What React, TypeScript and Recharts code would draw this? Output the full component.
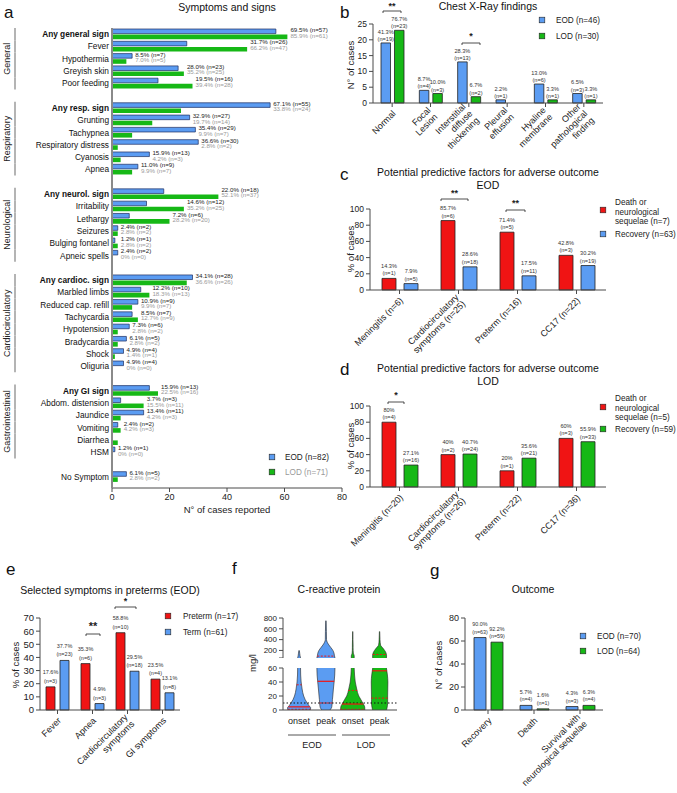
import React from 'react';
import { BarChart, Bar, XAxis, YAxis, LabelList, ComposedChart, Area, ReferenceLine } from 'recharts';

const FONT = '"Liberation Sans", Arial, Helvetica, sans-serif';
const BLUE = '#5b9cf2';
const GREEN = '#16b816';
const RED = '#f01414';
const AXIS = '#4a4a4a';

// ---------- a: symptoms and signs (bars = number of cases)
const symptomGroups = ['General', 'Respiratory', 'Neurological', 'Cardiocirculatory', 'Gastrointestinal', ''];
const groupSizes = [5, 6, 6, 8, 6, 1];
const symptoms = [
  'Any general sign', 'Fever', 'Hypothermia', 'Greyish skin', 'Poor feeding',
  'Any resp. sign', 'Grunting', 'Tachypnea', 'Respiratory distress', 'Cyanosis', 'Apnea',
  'Any neurol. sign', 'Irritability', 'Lethargy', 'Seizures', 'Bulging fontanel', 'Apneic spells',
  'Any cardioc. sign', 'Marbled limbs', 'Reduced cap. refill', 'Tachycardia', 'Hypotension', 'Bradycardia', 'Shock', 'Oliguria',
  'Any GI sign', 'Abdom. distension', 'Jaundice', 'Vomiting', 'Diarrhea', 'HSM',
  'No Symptom',
];
const eodN = [57, 26, 7, 23, 16, 55, 27, 29, 30, 13, 9, 18, 12, 6, 2, 1, 2, 28, 10, 9, 7, 6, 5, 4, 4, 13, 3, 11, 2, 0, 1, 5];
const eodPct = [69.5, 31.7, 8.5, 28.0, 19.5, 67.1, 32.9, 35.4, 36.6, 15.9, 11.0, 22.0, 14.6, 7.2, 2.4, 1.2, 2.4, 34.1, 12.2, 10.9, 8.5, 7.3, 6.1, 4.9, 4.9, 15.9, 3.7, 13.4, 2.4, 0, 1.2, 6.1];
const lodN = [61, 47, 5, 25, 28, 24, 14, 7, 2, 3, 7, 37, 25, 20, 2, 2, 0, 26, 13, 7, 9, 2, 2, 1, 0, 16, 11, 3, 3, 2, 0, 2];
const lodPct = [85.9, 66.2, 7.0, 35.2, 39.4, 33.8, 19.7, 9.9, 2.8, 4.2, 9.9, 52.1, 35.2, 28.2, 2.8, 2.8, 0, 36.6, 18.3, 9.9, 12.7, 2.8, 2.8, 1.4, 0, 22.5, 15.5, 4.2, 4.2, 2.8, 0, 2.8];

// ---------- b: chest x-ray
const xrayFindings = ['Normal', 'Focal\nLesion', 'Interstitial\ndiffuse\nthickening', 'Pleural\neffusion', 'Hyaline\nmembrane', 'Other\npathological\nfinding'];
const xrayEod = [19, 4, 13, 1, 6, 3];
const xrayEodPct = [41.3, 8.7, 28.3, 2.2, 13.0, 6.5];
const xrayLod = [23, 3, 2, 0, 1, 1];
const xrayLodPct: (number | null)[] = [76.7, 10.0, 6.7, null, 3.3, 3.3];

// ---------- c / d: predictive factors (bars = % of cases)
const eodFactors = ['Meningitis (n=6)', 'Cardiocirculatory\nsymptoms (n=25)', 'Preterm (n=16)', 'CC17 (n=22)'];
const eodAdversePct = [14.3, 85.7, 71.4, 42.8];
const eodAdverseN = [1, 6, 5, 3];
const eodRecoveryPct = [7.9, 28.6, 17.5, 30.2];
const eodRecoveryN = [5, 18, 11, 19];

const lodFactors = ['Meningitis (n=20)', 'Cardiocirculatory\nsymptoms (n=26)', 'Preterm (n=22)', 'CC17 (n=36)'];
const lodAdversePct = [80, 40, 20, 60];
const lodAdverseN = [4, 2, 1, 3];
const lodRecoveryPct = [27.1, 40.7, 35.6, 55.9];
const lodRecoveryN = [16, 24, 21, 33];

// ---------- e: preterm vs term
const pretermSymptoms = ['Fever', 'Apnea', 'Cardiocirculatory\nsymptoms', 'GI symptoms'];
const pretermPct = [17.6, 35.3, 58.8, 23.5];
const pretermN = [3, 6, 10, 4];
const termPct = [37.7, 4.9, 29.5, 13.1];
const termN = [23, 3, 18, 8];

// ---------- f: CRP violins (relative density at each level)
const crpTimes = ['onset', 'peak', 'onset', 'peak'];
const crpY = [0, 3, 6, 10, 15, 20, 30, 40, 50, 60, 100, 150, 200, 250, 300, 400, 550, 750];
const crpEodOnset = [0.92, 0.96, 0.83, 0.67, 0.5, 0.38, 0.25, 0.17, 0.13, 0.12, 0.08, 0.05, 0.02, null, null, null, null, null];
const crpEodPeak = [0.33, 0.46, 0.5, 0.52, 0.54, 0.57, 0.62, 0.68, 0.73, 0.75, 0.71, 0.67, 0.58, 0.42, 0.25, 0.05, 0.04, 0.02];
const crpLodOnset = [1.0, 1.0, 0.96, 0.83, 0.67, 0.5, 0.33, 0.21, 0.15, 0.12, 0.12, 0.05, 0.035, 0.03, 0.03, 0.02, 0.01, null];
const crpLodPeak = [0.58, 0.62, 0.65, 0.67, 0.67, 0.67, 0.68, 0.69, 0.65, 0.57, 0.58, 0.54, 0.42, 0.25, 0.08, 0.035, 0.015, null];
const crpMedian = [4.5, 41, 8.5, 56];
const crpQ1 = [1, 10, 1, 17];
const crpQ3 = [36, 95, 28, 125];
const crpCutoff = 10;

// ---------- g: outcome
const outcomes = ['Recovery', 'Death', 'Survival with\nneurological sequelae'];
const outcomeEodN = [63, 4, 3];
const outcomeEodPct = [90.0, 5.7, 4.3];
const outcomeLodN = [59, 1, 4];
const outcomeLodPct = [92.2, 1.6, 6.3];

// ---------- helpers
const pct1 = (v: number) => (v === 0 ? '0%' : `${v.toFixed(1)}%`);
const pctRaw = (v: number) => `${v}%`;
const lbl = (p: number, n: number, f = pct1) => `${f(p)}\n(n=${n})`;

type SymRow = { name: string; eod: number; lod: number; eodPct: number; lodPct: number; group: string; gi: number; gsize: number; gap?: boolean };
const symptomRows: SymRow[] = [];
{
  let k = 0;
  symptomGroups.forEach((g, gIdx) => {
    if (gIdx > 0) symptomRows.push({ name: `__gap${gIdx}`, eod: 0, lod: 0, eodPct: 0, lodPct: 0, group: '', gi: 0, gsize: 0, gap: true });
    for (let i = 0; i < groupSizes[gIdx]; i++, k++) {
      symptomRows.push({ name: symptoms[k], eod: eodN[k], lod: lodN[k], eodPct: eodPct[k], lodPct: lodPct[k], group: g, gi: i, gsize: groupSizes[gIdx] });
    }
  });
}
const rowByName = new Map(symptomRows.map((r) => [r.name, r]));

const A_TOP = 28, A_BOTTOM = 488, A_PAD = 5, A_LEFT = 112, A_RIGHT = 342, A_MAX = 80;
const BAND_A = (A_BOTTOM - A_TOP - A_PAD) / symptomRows.length;
const PX_A = (A_RIGHT - A_LEFT) / A_MAX;

const xrayRows = xrayFindings.map((name, i) => ({
  name, eod: xrayEod[i], lod: xrayLod[i],
  eodLbl: lbl(xrayEodPct[i], xrayEod[i]),
  lodLbl: xrayLodPct[i] == null ? 'n.d.' : lbl(xrayLodPct[i] as number, xrayLod[i]),
}));
const eodFactorRows = eodFactors.map((name, i) => ({
  name, adverse: eodAdversePct[i], recovery: eodRecoveryPct[i],
  aLbl: lbl(eodAdversePct[i], eodAdverseN[i]), rLbl: lbl(eodRecoveryPct[i], eodRecoveryN[i]),
}));
const lodFactorRows = lodFactors.map((name, i) => ({
  name, adverse: lodAdversePct[i], recovery: lodRecoveryPct[i],
  aLbl: lbl(lodAdversePct[i], lodAdverseN[i], pctRaw), rLbl: lbl(lodRecoveryPct[i], lodRecoveryN[i], pctRaw),
}));
const pretermRows = pretermSymptoms.map((name, i) => ({
  name, preterm: pretermPct[i], term: termPct[i],
  pLbl: lbl(pretermPct[i], pretermN[i]), tLbl: lbl(termPct[i], termN[i]),
}));
const outcomeRows = outcomes.map((name, i) => ({
  name, eod: outcomeEodN[i], lod: outcomeLodN[i],
  eLbl: lbl(outcomeEodPct[i], outcomeEodN[i]), lLbl: lbl(outcomeLodPct[i], outcomeLodN[i]),
}));

const crpDens = [crpEodOnset, crpEodPeak, crpLodOnset, crpLodPeak];
const crpColors = [BLUE, BLUE, GREEN, GREEN];
const MAX_HALF = 0.45;
const crpRows = crpY.map((y, j) => {
  const row: any = { y };
  crpDens.forEach((d, i) => {
    const v = d[j];
    // [null, null] keeps both edges of the violin undefined above its top
    row[`v${i}`] = v == null ? [null, null] : [i + 1 - v * MAX_HALF, i + 1 + v * MAX_HALF];
  });
  return row;
});
const halfAt = (i: number, y: number) => {
  const d = crpDens[i];
  for (let j = 0; j < crpY.length - 1; j++) {
    if (y >= crpY[j] && y <= crpY[j + 1] && d[j] != null && d[j + 1] != null) {
      const t = (y - crpY[j]) / (crpY[j + 1] - crpY[j]);
      return ((d[j] as number) + t * ((d[j + 1] as number) - (d[j] as number))) * MAX_HALF;
    }
  }
  return 0.05;
};

const tickStyle = { fontSize: 8.5, fill: '#222', fontFamily: FONT };
const axisLine = { stroke: AXIS, strokeWidth: 1 };

const topLabel = (fontSize: number, lineH: number, lift: number) => (props: any) => {
  const vb = props.viewBox ?? props;
  const lines = String(props.value ?? '').split('\n');
  const cx = vb.x + vb.width / 2;
  const base = Math.min(vb.y, vb.y + vb.height) - lift;
  return (
    <text textAnchor="middle" fontSize={fontSize} fill="#333" fontFamily={FONT}>
      {lines.map((l, i) => (
        <tspan key={i} x={cx} y={base - (lines.length - 1 - i) * lineH}>{l}</tspan>
      ))}
    </text>
  );
};

function RotTick(props: any) {
  const { x, y, payload } = props;
  const lines = String(payload.value).split('\n');
  const lh = 9.5;
  return (
    <g transform={`translate(${x + 2},${y + 3}) rotate(-45)`}>
      <text textAnchor="end" fontSize={9} fill="#222" fontFamily={FONT}>
        {lines.map((l, i) => (
          <tspan key={i} x={0} y={(i - (lines.length - 1) / 2) * lh + 3}>{l}</tspan>
        ))}
      </text>
    </g>
  );
}

function SymptomTick(props: any) {
  const { x, y, payload } = props;
  const r = rowByName.get(payload.value);
  if (!r || r.gap) return null;
  const bold = r.name.startsWith('Any');
  return (
    <g>
      <text x={x} y={y + 3} textAnchor="end" fontSize={8.3} fontWeight={bold ? 700 : 400} fill="#111" fontFamily={FONT}>{r.name}</text>
      {r.group && <line x1={15} x2={15} y1={y - BAND_A / 2} y2={y + BAND_A / 2} stroke="#b4b4b4" strokeWidth={2} />}
      {r.group && r.gi === 0 && (
        <text transform={`translate(9.5,${y + ((r.gsize - 1) / 2) * BAND_A}) rotate(-90)`} textAnchor="middle" fontSize={9} fill="#222" fontFamily={FONT}>{r.group}</text>
      )}
    </g>
  );
}

function SymptomLabel(props: any) {
  const vb = props.viewBox ?? props;
  const r = rowByName.get(props.value);
  if (!r || r.gap) return null;
  const x = vb.x + Math.max(r.eod, r.lod) * PX_A + 3;
  const cy = vb.y + vb.height / 2;
  return (
    <g fontFamily={FONT} fontSize={6.2}>
      <text x={x} y={cy + 0.8} fill="#222">{`${pct1(r.eodPct)} (n=${r.eod})`}</text>
      <text x={x} y={cy + 6.3} fill="#9a9a9a">{`${pct1(r.lodPct)} (n=${r.lod})`}</text>
    </g>
  );
}

const Box = ({ left, top, children }: { left: number; top: number; children: React.ReactNode }) => (
  <div style={{ position: 'absolute', left, top }}>{children}</div>
);

function SymptomsChart() {
  return (
    <BarChart width={360} height={520} data={symptomRows} layout="vertical" margin={{ top: A_TOP, right: 18, bottom: 12, left: 0 }} barSize={4.6} barGap={1}>
      <XAxis type="number" domain={[0, A_MAX]} ticks={[0, 20, 40, 60, 80]} tick={{ ...tickStyle, fontSize: 9 }} axisLine={axisLine} tickLine={{ stroke: AXIS }} tickSize={4} height={20} />
      <YAxis type="category" dataKey="name" width={A_LEFT} interval={0} tick={<SymptomTick />} tickSize={0} tickMargin={3} axisLine={{ stroke: '#8a8a8a', strokeWidth: 2 }} tickLine={false} padding={{ top: 0, bottom: A_PAD }} />
      <Bar dataKey="eod" fill={BLUE} stroke="#1c2d5e" strokeWidth={0.7} isAnimationActive={false}>
        <LabelList dataKey="name" content={SymptomLabel} />
      </Bar>
      <Bar dataKey="lod" fill={GREEN} isAnimationActive={false} />
    </BarChart>
  );
}

function XrayChart() {
  return (
    <BarChart width={332} height={160} data={xrayRows} margin={{ top: 24, right: 74, bottom: 0, left: 0 }} barSize={9.5} barGap={4}>
      <XAxis dataKey="name" interval={0} tick={<RotTick />} axisLine={axisLine} tickLine={{ stroke: AXIS }} tickSize={4} height={57} />
      <YAxis width={28} domain={[0, 25]} ticks={[0, 5, 10, 15, 20, 25]} interval={0} tick={tickStyle} axisLine={axisLine} tickLine={{ stroke: AXIS }} tickSize={4} />
      <Bar dataKey="eod" fill={BLUE} stroke="#222" strokeWidth={0.8} isAnimationActive={false}>
        <LabelList dataKey="eodLbl" content={topLabel(5.6, 7.2, 2)} />
      </Bar>
      <Bar dataKey="lod" fill={GREEN} stroke="#222" strokeWidth={0.8} isAnimationActive={false}>
        <LabelList dataKey="lodLbl" content={topLabel(5.6, 7.2, 2)} />
      </Bar>
    </BarChart>
  );
}

function FactorChart({ rows, recColor, top, height }: { rows: any[]; recColor: string; top: number; height: number }) {
  return (
    <BarChart width={332} height={height} data={rows} margin={{ top, right: 71, bottom: 0, left: 0 }} barSize={14} barGap={8}>
      <XAxis dataKey="name" interval={0} tick={<RotTick />} axisLine={axisLine} tickLine={{ stroke: AXIS }} tickSize={4} height={height - top - 81} />
      <YAxis width={25} domain={[0, 100]} ticks={[0, 20, 40, 60, 80, 100]} interval={0} tick={tickStyle} axisLine={axisLine} tickLine={{ stroke: AXIS }} tickSize={4} />
      <Bar dataKey="adverse" fill={RED} stroke="#222" strokeWidth={0.8} isAnimationActive={false}>
        <LabelList dataKey="aLbl" content={topLabel(5.6, 7.5, 3)} />
      </Bar>
      <Bar dataKey="recovery" fill={recColor} stroke="#222" strokeWidth={0.8} isAnimationActive={false}>
        <LabelList dataKey="rLbl" content={topLabel(5.6, 7.5, 3)} />
      </Bar>
    </BarChart>
  );
}

function PretermChart() {
  return (
    <BarChart width={240} height={203} data={pretermRows} margin={{ top: 28, right: 60, bottom: 0, left: 0 }} barSize={9} barGap={5}>
      <XAxis dataKey="name" interval={0} tick={<RotTick />} axisLine={axisLine} tickLine={{ stroke: AXIS }} tickSize={4} height={83} />
      <YAxis width={40} domain={[0, 70]} ticks={[0, 10, 20, 30, 40, 50, 60, 70]} interval={0} tick={{ ...tickStyle, fontSize: 9.5 }} axisLine={axisLine} tickLine={{ stroke: AXIS }} tickSize={4} />
      <Bar dataKey="preterm" fill={RED} stroke="#222" strokeWidth={0.8} isAnimationActive={false}>
        <LabelList dataKey="pLbl" content={topLabel(5.5, 8.5, 4)} />
      </Bar>
      <Bar dataKey="term" fill={BLUE} stroke="#222" strokeWidth={0.8} isAnimationActive={false}>
        <LabelList dataKey="tLbl" content={topLabel(5.5, 8.5, 4)} />
      </Bar>
    </BarChart>
  );
}

function CrpChart({ upper }: { upper: boolean }) {
  const rows = crpRows.filter((r) => (upper ? r.y >= 60 : r.y <= 60));
  const inRange = (v: number) => (upper ? v > 60 : v <= 60);
  return (
    <ComposedChart width={160} height={upper ? 58 : 70} data={rows} layout="vertical" margin={{ top: upper ? 18 : 8, right: 3, bottom: 0, left: 0 }}>
      <XAxis type="number" domain={[0.4, 4.65]} ticks={[1, 2, 3, 4]} interval={0} tickFormatter={(v) => crpTimes[v - 1]} hide={upper} tick={{ ...tickStyle, fontSize: 9 }} axisLine={axisLine} tickLine={false} height={20} />
      <YAxis type="number" dataKey="y" reversed width={43} domain={upper ? [60, 800] : [0, 60]} ticks={upper ? [60, 200, 400, 600, 800] : [0, 20, 40, 60]} interval={0} tickFormatter={(v) => (upper && v === 60 ? '' : String(v))} tick={{ ...tickStyle, fontSize: 8 }} axisLine={axisLine} tickLine={{ stroke: AXIS }} tickSize={4} allowDataOverflow />
      {crpColors.map((c, i) => (
        <Area key={i} dataKey={`v${i}`} type="monotone" fill={c} fillOpacity={1} stroke="#222" strokeWidth={0.6} isAnimationActive={false} dot={false} activeDot={false} />
      ))}
      {!upper && <ReferenceLine y={crpCutoff} stroke="#111" strokeDasharray="1.5 2" strokeWidth={1} />}
      {crpMedian.map((m, i) => inRange(m) && (
        <ReferenceLine key={`m${i}`} segment={[{ x: i + 1 - halfAt(i, m), y: m }, { x: i + 1 + halfAt(i, m), y: m }]} stroke={RED} strokeWidth={1.2} />
      ))}
      {[...crpQ1, ...crpQ3].map((q, k) => {
        const i = k % 4;
        return inRange(q) && (
          <ReferenceLine key={`q${k}`} segment={[{ x: i + 1 - halfAt(i, q), y: q }, { x: i + 1 + halfAt(i, q), y: q }]} stroke={RED} strokeWidth={1} strokeDasharray="2 1.5" />
        );
      })}
    </ComposedChart>
  );
}

function OutcomeChart() {
  return (
    <BarChart width={257} height={203} data={outcomeRows} margin={{ top: 28, right: 74, bottom: 0, left: 0 }} barSize={12} barGap={5}>
      <XAxis dataKey="name" interval={0} tick={<RotTick />} axisLine={axisLine} tickLine={{ stroke: AXIS }} tickSize={4} height={83} />
      <YAxis width={45} domain={[0, 80]} ticks={[0, 20, 40, 60, 80]} interval={0} tick={{ ...tickStyle, fontSize: 9 }} axisLine={axisLine} tickLine={{ stroke: AXIS }} tickSize={4} />
      <Bar dataKey="eod" fill={BLUE} stroke="#222" strokeWidth={0.8} isAnimationActive={false}>
        <LabelList dataKey="eLbl" content={topLabel(5.4, 7.5, 4)} />
      </Bar>
      <Bar dataKey="lod" fill={GREEN} stroke="#222" strokeWidth={0.8} isAnimationActive={false}>
        <LabelList dataKey="lLbl" content={topLabel(5.4, 7.5, 4)} />
      </Bar>
    </BarChart>
  );
}

const Sq = ({ x, y, c }: { x: number; y: number; c: string }) => (
  <rect x={x - 2.8} y={y - 2.8} width={5.6} height={5.6} fill={c} stroke="#222" strokeWidth={0.6} />
);
const Bracket = ({ x1, x2, y, stars, cy, size = 9 }: { x1: number; x2: number; y: number; stars: string; cy: number; size?: number }) => (
  <g>
    <path d={`M${x1},${y + 2} V${y} H${x2} V${y + 2}`} fill="none" stroke="#222" strokeWidth={0.8} />
    <text x={(x1 + x2) / 2} y={cy} textAnchor="middle" fontSize={size} fontWeight={700} fill="#222">{stars}</text>
  </g>
);
const VLabel = ({ x, y, text }: { x: number; y: number; text: string }) => (
  <text transform={`translate(${x},${y}) rotate(-90)`} textAnchor="middle" fontSize={9.5} fill="#222">{text}</text>
);

function Overlay() {
  const title = { fontSize: 10.5, fill: '#111', textAnchor: 'middle' as const };
  const letter = { fontSize: 17, fill: '#111' };
  const leg = { fontSize: 8.2, fill: '#222' };
  return (
    <svg width={677} height={793} style={{ position: 'absolute', left: 0, top: 0, pointerEvents: 'none' }} fontFamily={FONT}>
      {/* letters */}
      <text x={4} y={18} {...letter}>a</text>
      <text x={340} y={18} {...letter}>b</text>
      <text x={340} y={180} {...letter}>c</text>
      <text x={340} y={375} {...letter}>d</text>
      <text x={6} y={575} {...letter}>e</text>
      <text x={232} y={574} {...letter}>f</text>
      <text x={430} y={576} {...letter}>g</text>

      {/* titles */}
      <text x={227} y={11} {...title}>Symptoms and signs</text>
      <text x={488} y={10} {...title}>Chest X-Ray findings</text>
      <text x={488} y={176} {...title}>Potential predictive factors for adverse outcome</text>
      <text x={488} y={189} {...title}>EOD</text>
      <text x={488} y={372} {...title}>Potential predictive factors for adverse outcome</text>
      <text x={488} y={385} {...title}>LOD</text>
      <text x={110} y={594} {...title}>Selected symptoms in preterms (EOD)</text>
      <text x={339} y={593} {...title}>C-reactive protein</text>
      <text x={533} y={593} {...title}>Outcome</text>

      {/* axis titles */}
      <text x={227} y={513} textAnchor="middle" fontSize={9.5} fill="#222">N° of cases reported</text>
      <VLabel x={354} y={65} text="N° of cases" />
      <VLabel x={354} y={249} text="% of cases" />
      <VLabel x={354} y={446} text="% of cases" />
      <VLabel x={19} y={665} text="% of cases" />
      <VLabel x={256} y={663} text="mg/l" />
      <VLabel x={442} y={665} text="N° of cases" />

      {/* legends */}
      <Sq x={272} y={457} c={BLUE} />
      <text x={285} y={460} {...leg}>EOD (n=82)</text>
      <Sq x={272} y={472} c={GREEN} />
      <text x={285} y={475} {...leg} fill="#999">LOD (n=71)</text>

      <Sq x={542} y={20} c={BLUE} />
      <text x={556} y={23} {...leg}>EOD (n=46)</text>
      <Sq x={542} y={36} c={GREEN} />
      <text x={556} y={39} {...leg}>LOD (n=30)</text>

      <Sq x={603} y={210} c={RED} />
      <text x={615} y={205} {...leg}>Death or</text>
      <text x={615} y={215} {...leg}>neurological</text>
      <text x={615} y={224} {...leg}>sequelae (n=7)</text>
      <Sq x={603} y={234} c={BLUE} />
      <text x={615} y={237} {...leg}>Recovery (n=63)</text>

      <Sq x={603} y={407} c={RED} />
      <text x={615} y={401} {...leg}>Death or</text>
      <text x={615} y={411} {...leg}>neurological</text>
      <text x={615} y={420} {...leg}>sequelae (n=5)</text>
      <Sq x={603} y={429} c={GREEN} />
      <text x={615} y={432} {...leg}>Recovery (n=59)</text>

      <Sq x={168} y={616} c={RED} />
      <text x={183} y={619} {...leg}>Preterm (n=17)</text>
      <Sq x={168} y={632} c={BLUE} />
      <text x={183} y={635} {...leg}>Term (n=61)</text>

      <Sq x={583} y={636} c={BLUE} />
      <text x={597} y={639} {...leg}>EOD (n=70)</text>
      <Sq x={583} y={651} c={GREEN} />
      <text x={597} y={654} {...leg}>LOD (n=64)</text>

      {/* significance */}
      <Bracket x1={383} x2={401} y={11} stars="**" cy={9} />
      <Bracket x1={462} x2={480} y={43} stars="*" cy={39} />
      <Bracket x1={441} x2={468} y={199} stars="**" cy={196} />
      <Bracket x1={506} x2={525} y={210} stars="**" cy={206} />
      <Bracket x1={388} x2={404} y={402} stars="*" cy={398} />
      <Bracket x1={86} x2={100} y={634} stars="**" cy={630} size={11} />
      <Bracket x1={115} x2={136} y={607} stars="*" cy={604} />

      {/* CRP groups */}
      <line x1={288} x2={336} y1={735} y2={735} stroke="#555" strokeWidth={1} />
      <line x1={342} x2={390} y1={735} y2={735} stroke="#555" strokeWidth={1} />
      <text x={312} y={748} textAnchor="middle" fontSize={9} fill="#222">EOD</text>
      <text x={366} y={748} textAnchor="middle" fontSize={9} fill="#222">LOD</text>
    </svg>
  );
}

export default function App() {
  return (
    <div style={{ position: 'absolute', left: 0, top: 0, width: 677, height: 793, background: '#fff', fontFamily: FONT, overflow: 'hidden' }}>
      <Box left={0} top={0}><SymptomsChart /></Box>
      <Box left={345} top={0}><XrayChart /></Box>
      <Box left={345} top={180}><FactorChart rows={eodFactorRows} recColor={BLUE} top={29} height={175} /></Box>
      <Box left={345} top={380}><FactorChart rows={lodFactorRows} recColor={GREEN} top={26} height={190} /></Box>
      <Box left={0} top={590}><PretermChart /></Box>
      <Box left={240} top={600}><CrpChart upper /></Box>
      <Box left={240} top={660}><CrpChart upper={false} /></Box>
      <Box left={420} top={590}><OutcomeChart /></Box>
      <Overlay />
    </div>
  );
}
